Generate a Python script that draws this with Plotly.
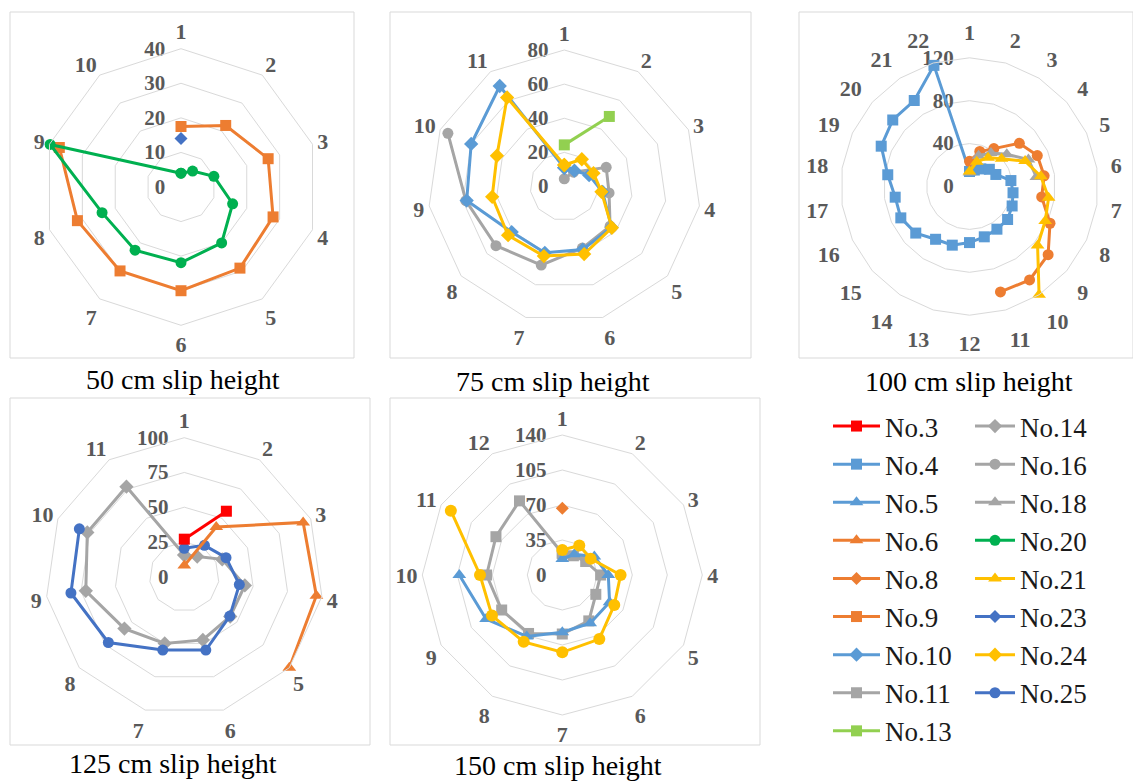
import plotly.graph_objects as go

W, H = 1133, 781
SERIF = "Liberation Serif"

# ---- category labels (test points around each ring) ----
cats_50 = [str(i) for i in range(1, 11)]
cats_75 = [str(i) for i in range(1, 12)]
cats_100 = [str(i) for i in range(1, 23)]
cats_125 = [str(i) for i in range(1, 12)]
cats_150 = [str(i) for i in range(1, 13)]

# ---- 50 cm slip height ----
no9_50 = [17.5, 22, 26.5, 28, 29, 30, 30, 31.5, 37]
no20_50 = [4, 5.7, 10, 15.7, 20, 21.9, 22.6, 24, 39.8]
no23_50 = [14]

# ---- 75 cm slip height ----
no10_75 = [11, 11, 16, 22.7, 36.6, 38.5, 40.5, 40.8, 57.8, 60, 70]
no13_75 = [24.4, 48.8]
no16_75 = [4.5, 10, 27, 26.5, 35.5, 37.6, 48, 53, 58.3, 75]
no24_75 = [12.6, 19, 18.8, 22, 36.9, 41.3, 42.5, 43.6, 42.7, 43.4, 62]

# ---- 100 cm slip height ----
no4_100 = [14, 16, 19.5, 24.5, 27, 39, 41, 43.7, 47, 47.3, 48.9, 52.3, 57,
           58.5, 66.3, 70.4, 70, 77, 90.5, 94.7, 95.3, 117.7]
no8_100 = [23.5, 34, 42, 61.5, 69.5, 70.3, 68, 82.5, 97, 103.6, 102.5]
no18_100 = [13, 30, 37, 46, 60.4, 63]
no21_100 = [14, 24, 32, 39.5, 57, 67.2, 74.5, 77.6, 84, 120]

# ---- 125 cm slip height ----
no3_125 = [27, 56]
no6_125 = [8, 42.5, 94, 96, 100]
no14_125 = [15.6, 17.2, 30, 44, 43.7, 47.4, 50, 57, 71.6, 76.7, 77]
no25_125 = [20.4, 26.8, 33, 40, 43.3, 55, 55, 72.3, 82.4, 83]

# ---- 150 cm slip height ----
no5_150 = [16, 24, 37, 46, 54.6, 55.7, 57.3, 71, 88, 103]
no8_150 = [66.7]
no11_150 = [21.7, 22.2, 27, 38.3, 38.7, 53, 59, 67.5, 70, 75.7, 76.6, 85.6]
no24_150 = [25, 34, 32.7, 58.3, 60, 74, 77.3, 77.2, 81.2, 82.3, 128.7]

BLUE = "#5B9BD5"
ORANGE = "#ED7D31"
GRAY = "#A5A5A5"
YELLOW = "#FFC000"
DKBLUE = "#4472C4"
GREEN = "#00B050"
LTGREEN = "#92D050"
RED = "#FF0000"

MSIZE = {"square": 11, "circle": 11, "diamond": 11, "triangle-up": 12}

fig = go.Figure()


def add_series(subplot, cats, values, name, color, symbol, closed=False,
               legend=None, rank=None, msize=None):
    theta = cats[:len(values)]
    r = list(values)
    if closed:
        theta = theta + [theta[0]]
        r = r + [r[0]]
    fig.add_trace(go.Scatterpolar(
        r=r, theta=theta, subplot=subplot, name=name,
        mode="lines+markers",
        line=dict(color=color, width=3),
        marker=dict(symbol=symbol, size=msize or MSIZE[symbol], color=color),
        showlegend=legend is not None,
        legend=legend if legend else "legend",
        legendrank=rank if rank else 1000,
        cliponaxis=False,
    ))


# 50 cm
add_series("polar", cats_50, no9_50, "No.9", ORANGE, "square", legend="legend", rank=6)
add_series("polar", cats_50, no20_50, "No.20", GREEN, "circle", closed=True, legend="legend2", rank=13)
add_series("polar", cats_50, no23_50, "No.23", DKBLUE, "diamond", legend="legend2", rank=15, msize=10)
# 75 cm
add_series("polar2", cats_75, no16_75, "No.16", GRAY, "circle", legend="legend2", rank=11)
add_series("polar2", cats_75, no10_75, "No.10", BLUE, "diamond", closed=True, legend="legend", rank=7)
add_series("polar2", cats_75, no24_75, "No.24", YELLOW, "diamond", closed=True, legend="legend2", rank=16)
add_series("polar2", cats_75, no13_75, "No.13", LTGREEN, "square", legend="legend", rank=9)
# 100 cm
add_series("polar3", cats_100, no4_100, "No.4", BLUE, "square", closed=True, legend="legend", rank=2)
add_series("polar3", cats_100, no8_100, "No.8", ORANGE, "circle")
add_series("polar3", cats_100, no18_100, "No.18", GRAY, "triangle-up", legend="legend2", rank=12)
add_series("polar3", cats_100, no21_100, "No.21", YELLOW, "triangle-up", legend="legend2", rank=14)
# 125 cm
add_series("polar4", cats_125, no14_125, "No.14", GRAY, "diamond", closed=True, legend="legend2", rank=10)
add_series("polar4", cats_125, no25_125, "No.25", DKBLUE, "circle", legend="legend2", rank=17)
add_series("polar4", cats_125, no6_125, "No.6", ORANGE, "triangle-up", legend="legend", rank=4)
add_series("polar4", cats_125, no3_125, "No.3", RED, "square", legend="legend", rank=1)
# 150 cm
add_series("polar5", cats_150, no11_150, "No.11", GRAY, "square", closed=True, legend="legend", rank=8)
add_series("polar5", cats_150, no5_150, "No.5", BLUE, "triangle-up", legend="legend", rank=3)
add_series("polar5", cats_150, no24_150, "No.24", YELLOW, "circle", msize=12)
add_series("polar5", cats_150, no8_150, "No.8", ORANGE, "diamond", legend="legend", rank=5, msize=10)

tick_font = dict(family=SERIF, size=22, color="#595959", weight="bold")
rad_font = dict(family=SERIF, size=21, color="#595959", weight="bold")


def polar_layout(cx, cy, R, cats, rmax, dtick, ang_len=0):
    return dict(
        domain=dict(x=[(cx - R) / W, (cx + R) / W],
                    y=[1 - (cy + R) / H, 1 - (cy - R) / H]),
        gridshape="linear",
        bgcolor="rgba(0,0,0,0)",
        angularaxis=dict(
            type="category", categoryorder="array", categoryarray=cats,
            rotation=90, direction="clockwise",
            showgrid=False, showline=True, linecolor="#D9D9D9", linewidth=1,
            ticks="outside", ticklen=ang_len, tickcolor="rgba(0,0,0,0)",
            tickfont=tick_font,
        ),
        radialaxis=dict(
            range=[0, rmax], tick0=0, dtick=dtick, angle=90, tickangle=90,
            side="counterclockwise", showline=False,
            gridcolor="#D9D9D9", gridwidth=1,
            ticks="outside", ticklen=8, tickcolor="rgba(0,0,0,0)",
            tickfont=rad_font, layer="below traces",
        ),
    )


# panel frames (x0, y0, x1, y1 in pixels)
frames = [(10, 12, 354, 358), (390, 12, 751, 358), (799, 12, 1133, 358),
          (10, 398, 370, 745), (390, 398, 760, 745)]
captions = ["50 cm slip height", "75 cm slip height", "100 cm slip height",
            "125 cm slip height", "150 cm slip height"]
caption_pos = [(183, 379), (553, 381), (969, 381), (173, 763), (558, 765)]

shapes = [dict(type="rect", xref="paper", yref="paper",
               x0=x0 / W, x1=x1 / W, y0=1 - y1 / H, y1=1 - y0 / H,
               line=dict(color="#D9D9D9", width=1), layer="below")
          for x0, y0, x1, y1 in frames]
annotations = [dict(text=t, x=x / W, y=1 - y / H, xref="paper", yref="paper",
                    showarrow=False, xanchor="center", yanchor="middle",
                    font=dict(family=SERIF, size=28, color="#000000"))
               for t, (x, y) in zip(captions, caption_pos)]

legend_common = dict(
    yanchor="top", xanchor="left", bgcolor="rgba(0,0,0,0)",
    font=dict(family=SERIF, size=27, color="#1a1a1a"),
    tracegroupgap=0, traceorder="normal",
)

fig.update_layout(
    width=W, height=H,
    margin=dict(l=0, r=0, t=0, b=0),
    paper_bgcolor="white",
    plot_bgcolor="white",
    polar=polar_layout(181, 187, 138.3, cats_50, 40, 10),
    polar2=polar_layout(564.3, 186.5, 136.5, cats_75, 80, 20),
    polar3=polar_layout(969.5, 186.5, 128.7, cats_100, 120, 40, ang_len=9),
    polar4=polar_layout(184.3, 576.7, 139, cats_125, 100, 25),
    polar5=polar_layout(562.3, 575, 140, cats_150, 140, 35),
    legend=dict(x=828 / W, y=1 - 402 / H, itemwidth=47, **legend_common),
    legend2=dict(x=970 / W, y=1 - 402 / H, itemwidth=40, **legend_common),
    shapes=shapes,
    annotations=annotations,
)

fig.write_html("out.html")
